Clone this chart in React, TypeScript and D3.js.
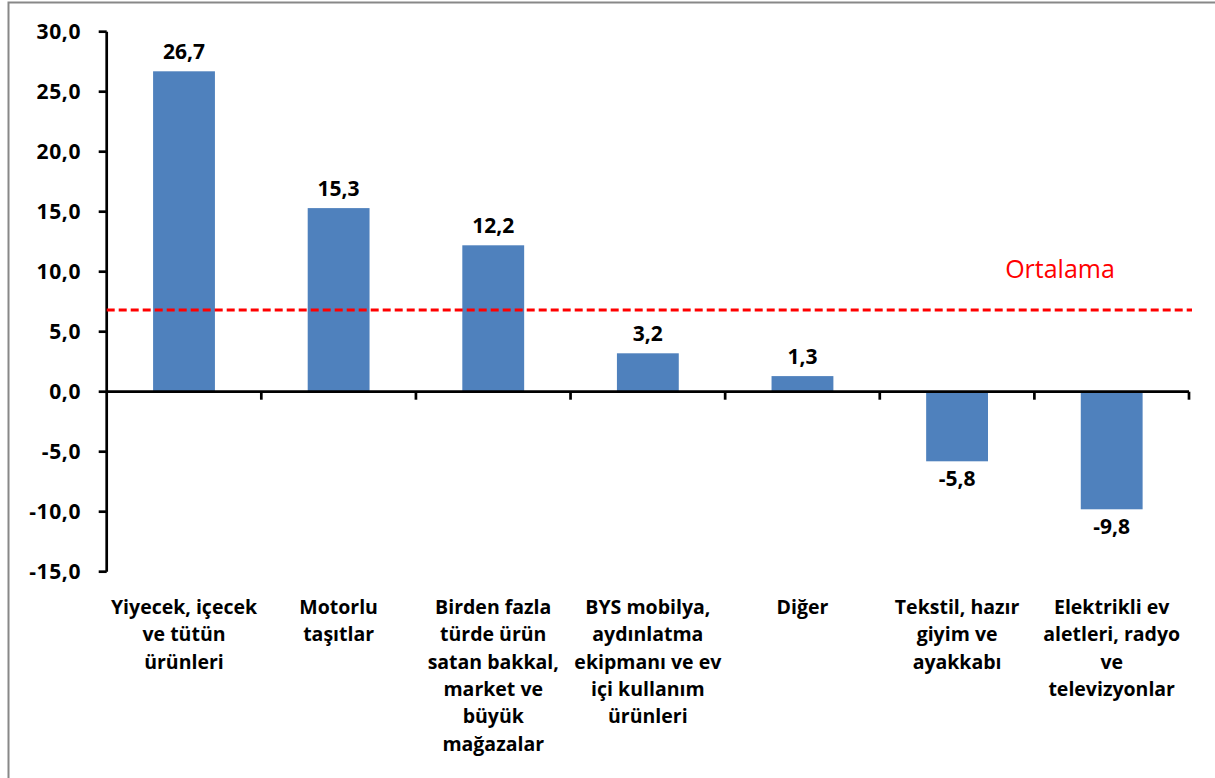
import React from 'react';
import * as d3 from 'd3';

// Sector names, split into the lines shown under the axis
const categories = [
  ["Yiyecek, içecek", "ve tütün", "ürünleri"],
  ["Motorlu", "taşıtlar"],
  ["Birden fazla", "türde ürün", "satan bakkal,", "market ve", "büyük", "mağazalar"],
  ["BYS mobilya,", "aydınlatma", "ekipmanı ve ev", "içi kullanım", "ürünleri"],
  ["Diğer"],
  ["Tekstil, hazır", "giyim ve", "ayakkabı"],
  ["Elektrikli ev", "aletleri, radyo", "ve", "televizyonlar"],
];
const values = [26.7, 15.3, 12.2, 3.2, 1.3, -5.8, -9.8];
const average = 6.8;
const averageLabel = "Ortalama";
const yTicks = [30, 25, 20, 15, 10, 5, 0, -5, -10, -15];

const W = 1215;
const H = 778;
const FONT = "'Open Sans', Calibri, sans-serif";

const fmt = (v: number) => v.toFixed(1).replace('.', ',');

const App: React.FC = () => {
  const left = 106.7;
  const right = 1189;
  const keys = categories.map((_, i) => String(i));

  const y = d3.scaleLinear().domain([-15, 30]).range([571.7, 31.7]);
  const xCat = d3.scaleBand<string>().domain(keys).range([left, right]).padding(0);
  const xBar = d3.scaleBand<string>().domain(keys).range([left, right])
    .paddingInner(0.6).paddingOuter(0.3);

  const y0 = y(0);

  return (
    <svg width={W} height={H} style={{ position: 'absolute', left: 0, top: 0 }}>
      <rect x={0} y={0} width={W} height={H} fill="#fff" />
      {/* chart frame (only top and left edges are visible) */}
      <rect x={8.5} y={2.5} width={W + 20} height={H + 20} fill="none" stroke="#888" strokeWidth={2} />

      {/* bars */}
      {values.map((v, i) => (
        <rect key={i}
          x={xBar(keys[i])}
          y={Math.min(y(v), y0)}
          width={xBar.bandwidth()}
          height={Math.abs(y(v) - y0)}
          fill="#4F81BD" />
      ))}

      {/* y axis */}
      <line x1={left} x2={left} y1={y(30)} y2={y(-15)} stroke="#000" strokeWidth={2.7} />
      {yTicks.map(t => (
        <g key={t}>
          <line x1={left - 8} x2={left} y1={y(t)} y2={y(t)} stroke="#000" strokeWidth={2.7} />
          <text x={81} y={y(t)} dy="0.36em" textAnchor="end"
            fontFamily={FONT} fontWeight="bold" fontSize={21} letterSpacing={0.6}>
            {fmt(t)}
          </text>
        </g>
      ))}

      {/* zero line with category ticks */}
      <line x1={left} x2={right} y1={y0} y2={y0} stroke="#000" strokeWidth={2.7} />
      {keys.map((k, i) => (
        <line key={k} x1={xCat(k)! + xCat.bandwidth()} x2={xCat(k)! + xCat.bandwidth()}
          y1={y0} y2={y0 + 8} stroke="#000" strokeWidth={2.7} />
      ))}

      {/* average line */}
      <line x1={left} x2={1192} y1={y(average)} y2={y(average)}
        stroke="#FF0000" strokeWidth={3} strokeDasharray="8,4" />
      <text x={1060} y={278} textAnchor="middle" fill="#FF0000"
        fontFamily={FONT} fontSize={25}>{averageLabel}</text>

      {/* value labels */}
      {values.map((v, i) => (
        <text key={i}
          x={xBar(keys[i])! + xBar.bandwidth() / 2}
          y={v >= 0 ? y(v) - 12 : y(v) + 25}
          textAnchor="middle" fontFamily={FONT} fontWeight="bold" fontSize={21}>
          {fmt(v)}
        </text>
      ))}

      {/* category labels */}
      {categories.map((lines, i) => (
        <text key={i} x={xCat(keys[i])! + xCat.bandwidth() / 2} y={614}
          textAnchor="middle" fontFamily={FONT} fontWeight="bold" fontSize={19.5}>
          {lines.map((l, j) => (
            <tspan key={j} x={xCat(keys[i])! + xCat.bandwidth() / 2} y={614 + j * 27.3}>{l}</tspan>
          ))}
        </text>
      ))}
    </svg>
  );
};

export default App;
